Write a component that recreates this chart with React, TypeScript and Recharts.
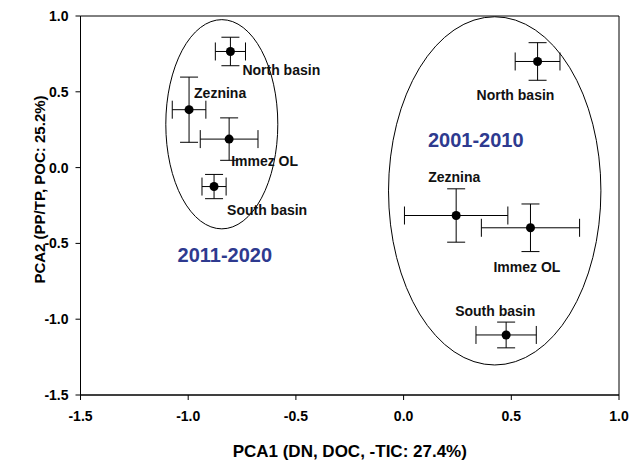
import { ScatterChart, Scatter, XAxis, YAxis, ErrorBar, ReferenceArea, ReferenceDot } from "recharts";

const sites = ["North basin", "Zeznina", "Immez OL", "South basin"];

// 2011-2020 group
const x2011 = [-0.804, -0.996, -0.81, -0.88];
const y2011 = [0.766, 0.382, 0.188, -0.125];
const ex2011 = [0.07, 0.078, 0.134, 0.056];
const ey2011 = [0.094, 0.215, 0.14, 0.08];

// 2001-2010 group
const x2001 = [0.622, 0.244, 0.589, 0.476];
const y2001 = [0.7, -0.316, -0.397, -1.104];
const ex2001 = [0.104, 0.24, 0.228, 0.14];
const ey2001 = [0.124, 0.176, 0.157, 0.085];

const ticks = [-1.5, -1.0, -0.5, 0.0, 0.5, 1.0];

// label placement relative to each point (px)
const off2011 = [[12, 19], [5, -17], [2, 22], [13, 23]];
const off2001 = [[-61, 34], [-28, -39], [-37, 39], [-51, -24]];

const FONT = "'Liberation Sans', Arial, sans-serif";
const BLUE = "#2E3A8F";

const rows = (xs: number[], ys: number[], exs: number[], eys: number[]) =>
  sites.map((name, i) => ({ name, i, x: xs[i], y: ys[i], ex: exs[i], ey: eys[i] }));

const data2011 = rows(x2011, y2011, ex2011, ey2011);
const data2001 = rows(x2001, y2001, ex2001, ey2001);

const pointShape = (offs: number[][]) => (p: any) => {
  const o = offs[p.payload.i];
  return (
    <g>
      <circle cx={p.cx} cy={p.cy} r={4.5} fill="#000" />
      <text x={p.cx + o[0]} y={p.cy + o[1]} dominantBaseline="central" fontSize={14} fontWeight="bold" fontFamily={FONT} fill="#111">
        {p.payload.name}
      </text>
    </g>
  );
};

const ellipse = (p: any) => (
  <ellipse cx={p.x + p.width / 2} cy={p.y + p.height / 2} rx={p.width / 2} ry={p.height / 2} fill="none" stroke="#000" strokeWidth={1} />
);

export default function App() {
  const tick = { fontSize: 14, fontWeight: "bold", fill: "#000", fontFamily: FONT };
  return (
    <div style={{ position: "absolute", left: 0, top: 0, background: "#fff" }}>
      <ScatterChart width={629} height={461} margin={{ top: 16, right: 10, bottom: 0, left: 0 }}>
        <XAxis type="number" dataKey="x" domain={[-1.5, 1.0]} ticks={ticks} tickFormatter={(v) => v.toFixed(1)}
          height={66} tick={tick} tickSize={5} tickMargin={11} stroke="#000" allowDataOverflow
          label={{ value: "PCA1 (DN, DOC, -TIC: 27.4%)", position: "center", dy: 23, fontSize: 17, fontWeight: "bold", fill: "#000", fontFamily: FONT }} />
        <YAxis type="number" dataKey="y" domain={[-1.5, 1.0]} ticks={ticks} tickFormatter={(v) => v.toFixed(1)}
          width={80.5} tick={tick} tickSize={5} tickMargin={7} stroke="#000" allowDataOverflow
          label={{ value: "PCA2 (PP/TP, POC: 25.2%)", angle: -90, position: "center", dx: -1, dy: -16, fontSize: 15, fontWeight: "bold", fill: "#000", fontFamily: FONT }} />
        <ReferenceArea x1={-1.5} x2={1.0} y1={-1.5} y2={1.0} fill="none" stroke="#000" strokeWidth={1} fillOpacity={0} ifOverflow="visible" />
        <ReferenceArea x1={-1.104} x2={-0.584} y1={-0.404} y2={0.976} ifOverflow="visible" shape={ellipse} />
        <ReferenceArea x1={-0.07} x2={0.916} y1={-1.302} y2={0.995} ifOverflow="visible" shape={ellipse} />
        <ReferenceDot x={-0.83} y={-0.576} r={0} fill="none" stroke="none"
          label={{ value: "2011-2020", position: "center", fill: BLUE, fontSize: 20, fontWeight: "bold", fontFamily: FONT }} />
        <ReferenceDot x={0.335} y={0.183} r={0} fill="none" stroke="none"
          label={{ value: "2001-2010", position: "center", fill: BLUE, fontSize: 20, fontWeight: "bold", fontFamily: FONT }} />
        <Scatter data={data2011} isAnimationActive={false} shape={pointShape(off2011)}>
          <ErrorBar dataKey="ex" direction="x" width={9} stroke="#000" strokeWidth={1} />
          <ErrorBar dataKey="ey" direction="y" width={9} stroke="#000" strokeWidth={1} />
        </Scatter>
        <Scatter data={data2001} isAnimationActive={false} shape={pointShape(off2001)}>
          <ErrorBar dataKey="ex" direction="x" width={9} stroke="#000" strokeWidth={1} />
          <ErrorBar dataKey="ey" direction="y" width={9} stroke="#000" strokeWidth={1} />
        </Scatter>
      </ScatterChart>
    </div>
  );
}
